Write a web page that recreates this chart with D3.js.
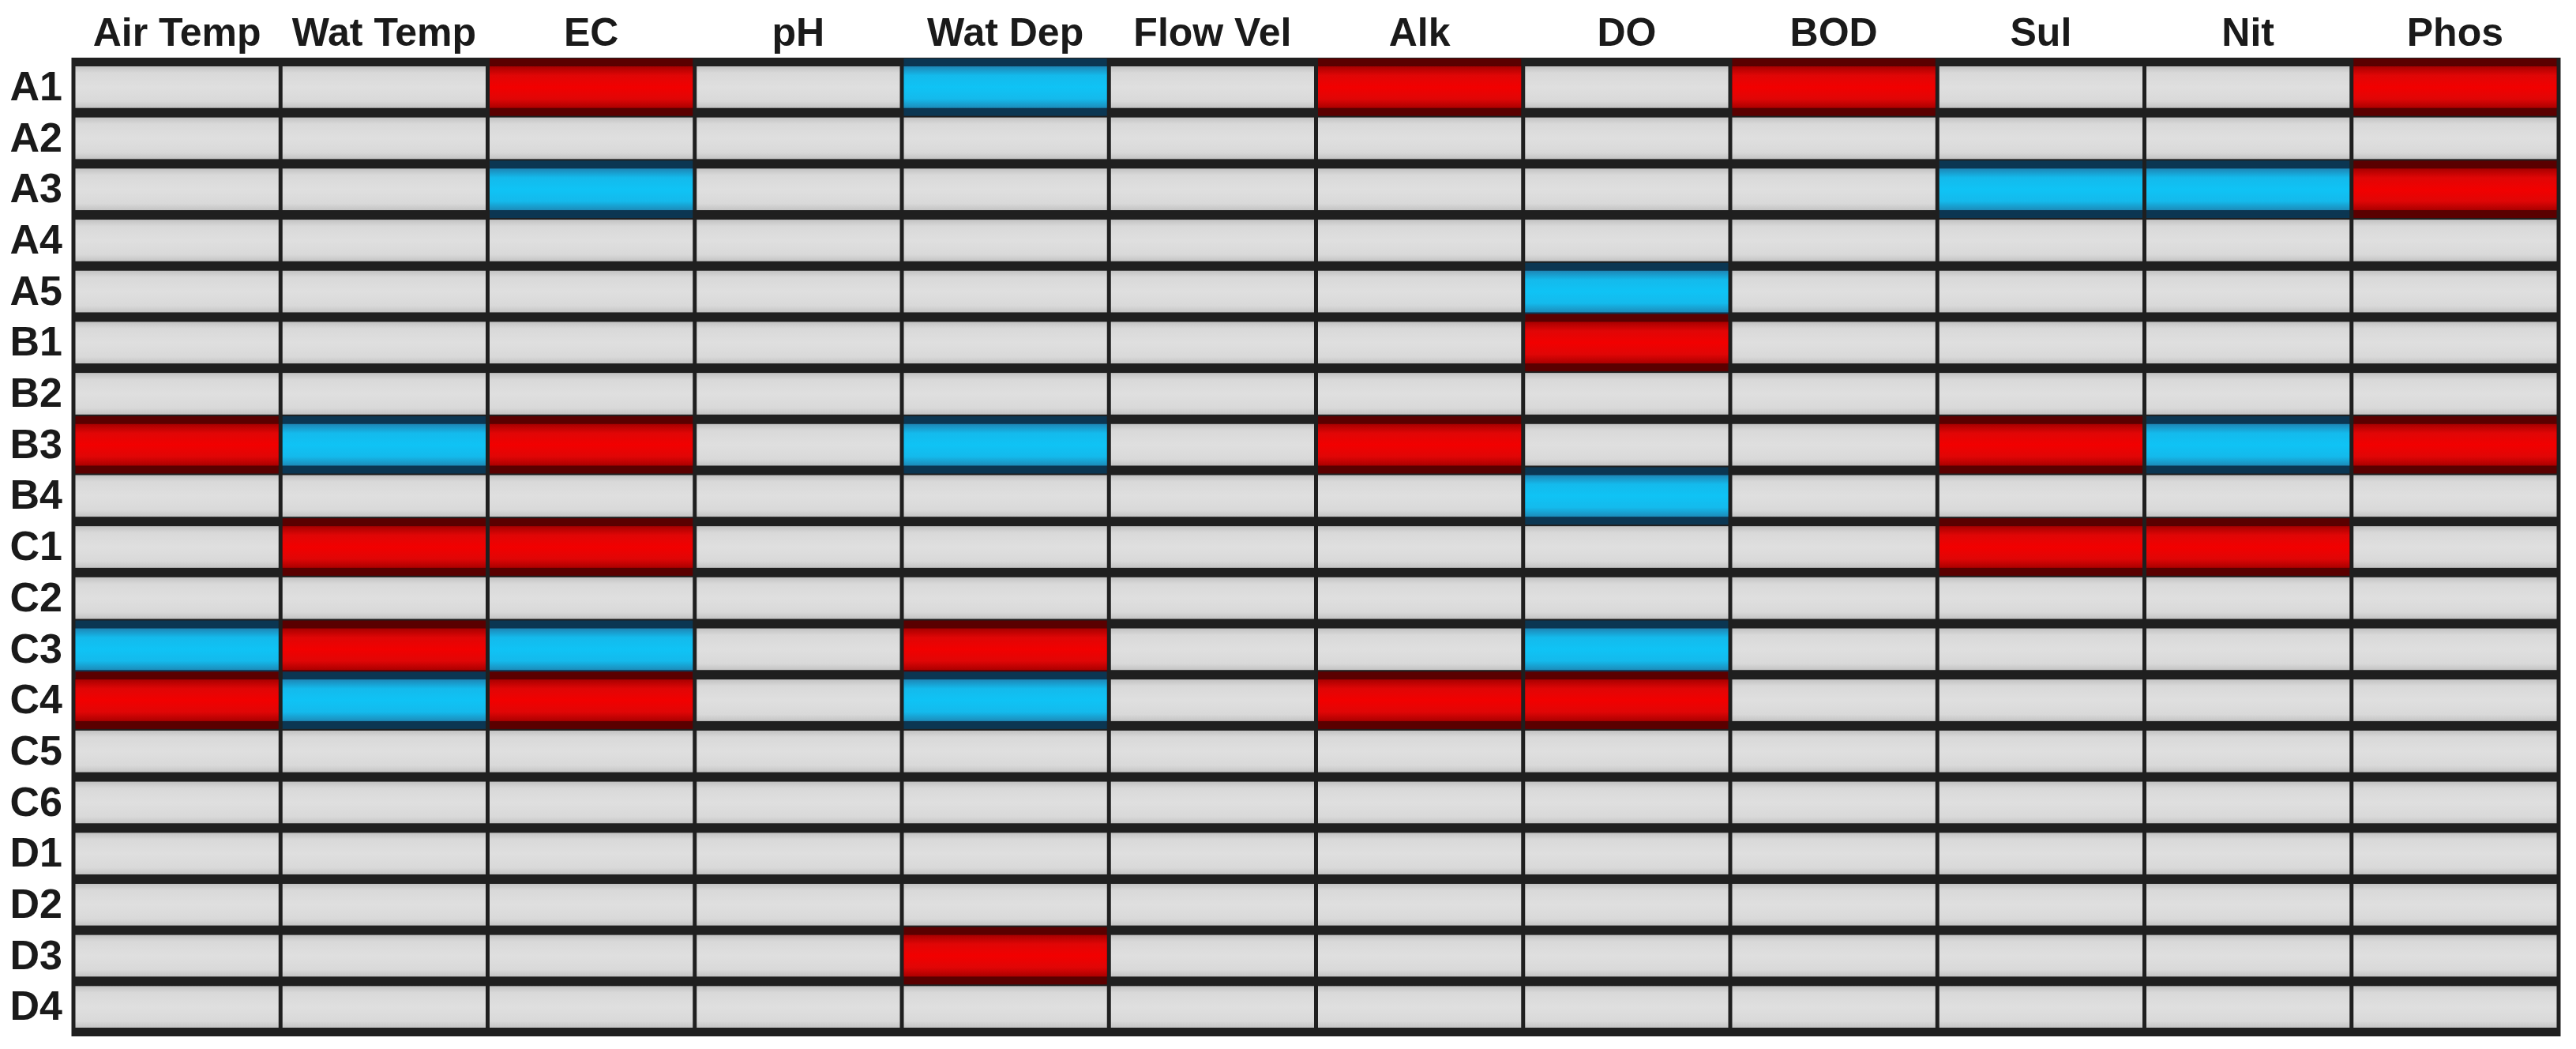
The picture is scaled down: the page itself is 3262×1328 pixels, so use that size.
<!DOCTYPE html>
<html>
<head>
<meta charset="utf-8">
<script src="https://cdn.jsdelivr.net/npm/d3@7"></script>
<style>
  html, body { margin: 0; padding: 0; background: #ffffff; }
  svg { display: block; }
</style>
</head>
<body>
<div id="chart"></div>
<script>
// ---- data ----
const parameters = ["Air Temp", "Wat Temp", "EC", "pH", "Wat Dep", "Flow Vel", "Alk", "DO", "BOD", "Sul", "Nit", "Phos"];
const sites = ["A1", "A2", "A3", "A4", "A5", "B1", "B2", "B3", "B4", "C1", "C2", "C3", "C4", "C5", "C6", "D1", "D2", "D3", "D4"];
// 1 = red, -1 = blue, 0 = grey (one entry per parameter, in order)
const A1 = [0, 0, 1, 0, -1, 0, 1, 0, 1, 0, 0, 1];
const A2 = [0, 0, 0, 0, 0, 0, 0, 0, 0, 0, 0, 0];
const A3 = [0, 0, -1, 0, 0, 0, 0, 0, 0, -1, -1, 1];
const A4 = [0, 0, 0, 0, 0, 0, 0, 0, 0, 0, 0, 0];
const A5 = [0, 0, 0, 0, 0, 0, 0, -1, 0, 0, 0, 0];
const B1 = [0, 0, 0, 0, 0, 0, 0, 1, 0, 0, 0, 0];
const B2 = [0, 0, 0, 0, 0, 0, 0, 0, 0, 0, 0, 0];
const B3 = [1, -1, 1, 0, -1, 0, 1, 0, 0, 1, -1, 1];
const B4 = [0, 0, 0, 0, 0, 0, 0, -1, 0, 0, 0, 0];
const C1 = [0, 1, 1, 0, 0, 0, 0, 0, 0, 1, 1, 0];
const C2 = [0, 0, 0, 0, 0, 0, 0, 0, 0, 0, 0, 0];
const C3 = [-1, 1, -1, 0, 1, 0, 0, -1, 0, 0, 0, 0];
const C4 = [1, -1, 1, 0, -1, 0, 1, 1, 0, 0, 0, 0];
const C5 = [0, 0, 0, 0, 0, 0, 0, 0, 0, 0, 0, 0];
const C6 = [0, 0, 0, 0, 0, 0, 0, 0, 0, 0, 0, 0];
const D1 = [0, 0, 0, 0, 0, 0, 0, 0, 0, 0, 0, 0];
const D2 = [0, 0, 0, 0, 0, 0, 0, 0, 0, 0, 0, 0];
const D3 = [0, 0, 0, 0, 1, 0, 0, 0, 0, 0, 0, 0];
const D4 = [0, 0, 0, 0, 0, 0, 0, 0, 0, 0, 0, 0];
const siteValues = [A1, A2, A3, A4, A5, B1, B2, B3, B4, C1, C2, C3, C4, C5, C6, D1, D2, D3, D4];

(function () {
  // ---- build table ----
  const cells = [];
  sites.forEach((s, i) => {
    parameters.forEach((p, j) => {
      cells.push({ site: s, param: p, v: siteValues[i][j] });
    });
  });

  const W = 3262, H = 1328;
  const gLeft = 93, gRight = 3240, gTop = 78, gBottom = 1307;
  const vLine = 5, hSep = 12;

  const svg = d3.select("#chart").append("svg")
    .attr("width", W).attr("height", H)
    .attr("viewBox", `0 0 ${W} ${H}`);

  svg.append("rect").attr("width", W).attr("height", H).attr("fill", "#ffffff");

  const x = d3.scaleBand().domain(parameters).range([gLeft, gRight]).padding(0);
  const y = d3.scaleBand().domain(sites).range([gTop, gBottom]).padding(0);

  const defs = svg.append("defs");
  const grads = {
    "0": [["0%", "#c2c2c2"], ["16%", "#d9d9d9"], ["50%", "#dfdfdf"], ["84%", "#d9d9d9"], ["100%", "#c4c4c4"]],
    "1": [["0%", "#a80000"], ["22%", "#e00606"], ["50%", "#f20000"], ["78%", "#e00606"], ["100%", "#ac0000"]],
    "-1": [["0%", "#1d86b6"], ["22%", "#14baec"], ["50%", "#0fc3f5"], ["78%", "#14baec"], ["100%", "#1c8cba"]]
  };
  const gradId = v => "g" + (v === 1 ? "red" : v === -1 ? "blue" : "grey");
  Object.entries(grads).forEach(([k, stops]) => {
    const gr = defs.append("linearGradient").attr("id", gradId(+k))
      .attr("x1", 0).attr("y1", 0).attr("x2", 0).attr("y2", 1);
    stops.forEach(([o, c]) => gr.append("stop").attr("offset", o).attr("stop-color", c));
  });
  const tint = v => v === 1 ? "#5a0000" : v === -1 ? "#0b3652" : "#1e1e1e";

  // grid background (lines)
  svg.append("rect")
    .attr("x", gLeft - vLine / 2).attr("y", gTop - hSep / 2 + 1)
    .attr("width", gRight - gLeft + vLine).attr("height", gBottom - gTop + hSep - 2)
    .attr("fill", "#1f1f1f");

  const g = svg.append("g");
  const sorted = cells.slice().sort((a, b) => Math.abs(a.v) - Math.abs(b.v));

  // tinted borders for coloured cells
  g.selectAll("rect.tint").data(sorted.filter(d => d.v !== 0)).join("rect")
    .attr("class", "tint")
    .attr("x", d => x(d.param) + vLine / 2)
    .attr("y", d => y(d.site) - 4)
    .attr("width", x.bandwidth() - vLine)
    .attr("height", y.bandwidth() + 8)
    .attr("fill", d => tint(d.v));

  g.selectAll("rect.cell").data(sorted).join("rect")
    .attr("class", "cell")
    .attr("x", d => x(d.param) + vLine / 2)
    .attr("y", d => y(d.site) + hSep / 2)
    .attr("width", x.bandwidth() - vLine)
    .attr("height", y.bandwidth() - hSep)
    .attr("fill", d => `url(#${gradId(d.v)})`);

  // axes
  const font = "'Liberation Sans', Arial, Helvetica, sans-serif";
  const xAxis = svg.append("g").attr("transform", `translate(0,${gTop})`)
    .call(d3.axisTop(x).tickSize(0).tickPadding(20));
  xAxis.select(".domain").remove();
  xAxis.selectAll("text")
    .attr("font-family", font).attr("font-size", 50).attr("font-weight", "bold")
    .attr("fill", "#1a1a1a");

  const yAxis = svg.append("g").attr("transform", `translate(${gLeft},0)`)
    .call(d3.axisLeft(y).tickSize(0).tickPadding(14));
  yAxis.select(".domain").remove();
  yAxis.selectAll("text")
    .attr("font-family", font).attr("font-size", 52).attr("font-weight", "bold")
    .attr("fill", "#1a1a1a");
})();
</script>
</body>
</html>
